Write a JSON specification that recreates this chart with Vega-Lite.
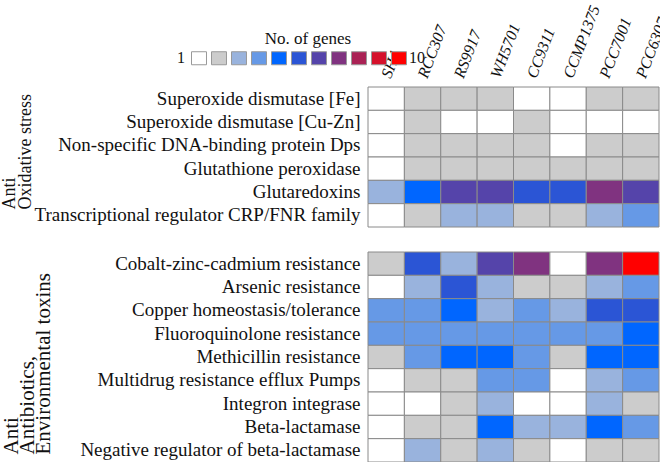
{
  "$schema": "https://vega.github.io/schema/vega-lite/v6.json",
  "padding": {"left": 0, "top": 2, "right": 0, "bottom": 0},
  "background": "white",
  "spacing": 23,
  "config": {"view": {"stroke": null}, "font": "Liberation Serif"},
  "data": {"values": [
    {"g":"A","f":"Superoxide dismutase [Fe]","s":"SH4","n":0},
    {"g":"A","f":"Superoxide dismutase [Fe]","s":"RCC307","n":1},
    {"g":"A","f":"Superoxide dismutase [Fe]","s":"RS9917","n":1},
    {"g":"A","f":"Superoxide dismutase [Fe]","s":"WH5701","n":1},
    {"g":"A","f":"Superoxide dismutase [Fe]","s":"CC9311","n":0},
    {"g":"A","f":"Superoxide dismutase [Fe]","s":"CCMP1375","n":0},
    {"g":"A","f":"Superoxide dismutase [Fe]","s":"PCC7001","n":1},
    {"g":"A","f":"Superoxide dismutase [Fe]","s":"PCC6307","n":1},
    {"g":"A","f":"Superoxide dismutase [Cu-Zn]","s":"SH4","n":0},
    {"g":"A","f":"Superoxide dismutase [Cu-Zn]","s":"RCC307","n":1},
    {"g":"A","f":"Superoxide dismutase [Cu-Zn]","s":"RS9917","n":0},
    {"g":"A","f":"Superoxide dismutase [Cu-Zn]","s":"WH5701","n":0},
    {"g":"A","f":"Superoxide dismutase [Cu-Zn]","s":"CC9311","n":1},
    {"g":"A","f":"Superoxide dismutase [Cu-Zn]","s":"CCMP1375","n":0},
    {"g":"A","f":"Superoxide dismutase [Cu-Zn]","s":"PCC7001","n":0},
    {"g":"A","f":"Superoxide dismutase [Cu-Zn]","s":"PCC6307","n":0},
    {"g":"A","f":"Non-specific DNA-binding protein Dps","s":"SH4","n":0},
    {"g":"A","f":"Non-specific DNA-binding protein Dps","s":"RCC307","n":1},
    {"g":"A","f":"Non-specific DNA-binding protein Dps","s":"RS9917","n":1},
    {"g":"A","f":"Non-specific DNA-binding protein Dps","s":"WH5701","n":1},
    {"g":"A","f":"Non-specific DNA-binding protein Dps","s":"CC9311","n":1},
    {"g":"A","f":"Non-specific DNA-binding protein Dps","s":"CCMP1375","n":0},
    {"g":"A","f":"Non-specific DNA-binding protein Dps","s":"PCC7001","n":1},
    {"g":"A","f":"Non-specific DNA-binding protein Dps","s":"PCC6307","n":1},
    {"g":"A","f":"Glutathione peroxidase","s":"SH4","n":0},
    {"g":"A","f":"Glutathione peroxidase","s":"RCC307","n":1},
    {"g":"A","f":"Glutathione peroxidase","s":"RS9917","n":1},
    {"g":"A","f":"Glutathione peroxidase","s":"WH5701","n":1},
    {"g":"A","f":"Glutathione peroxidase","s":"CC9311","n":1},
    {"g":"A","f":"Glutathione peroxidase","s":"CCMP1375","n":1},
    {"g":"A","f":"Glutathione peroxidase","s":"PCC7001","n":1},
    {"g":"A","f":"Glutathione peroxidase","s":"PCC6307","n":1},
    {"g":"A","f":"Glutaredoxins","s":"SH4","n":2},
    {"g":"A","f":"Glutaredoxins","s":"RCC307","n":4},
    {"g":"A","f":"Glutaredoxins","s":"RS9917","n":6},
    {"g":"A","f":"Glutaredoxins","s":"WH5701","n":6},
    {"g":"A","f":"Glutaredoxins","s":"CC9311","n":5},
    {"g":"A","f":"Glutaredoxins","s":"CCMP1375","n":5},
    {"g":"A","f":"Glutaredoxins","s":"PCC7001","n":7},
    {"g":"A","f":"Glutaredoxins","s":"PCC6307","n":6},
    {"g":"A","f":"Transcriptional regulator CRP/FNR family","s":"SH4","n":0},
    {"g":"A","f":"Transcriptional regulator CRP/FNR family","s":"RCC307","n":1},
    {"g":"A","f":"Transcriptional regulator CRP/FNR family","s":"RS9917","n":2},
    {"g":"A","f":"Transcriptional regulator CRP/FNR family","s":"WH5701","n":2},
    {"g":"A","f":"Transcriptional regulator CRP/FNR family","s":"CC9311","n":1},
    {"g":"A","f":"Transcriptional regulator CRP/FNR family","s":"CCMP1375","n":1},
    {"g":"A","f":"Transcriptional regulator CRP/FNR family","s":"PCC7001","n":2},
    {"g":"A","f":"Transcriptional regulator CRP/FNR family","s":"PCC6307","n":3},
    {"g":"B","f":"Cobalt-zinc-cadmium resistance","s":"SH4","n":1},
    {"g":"B","f":"Cobalt-zinc-cadmium resistance","s":"RCC307","n":5},
    {"g":"B","f":"Cobalt-zinc-cadmium resistance","s":"RS9917","n":2},
    {"g":"B","f":"Cobalt-zinc-cadmium resistance","s":"WH5701","n":6},
    {"g":"B","f":"Cobalt-zinc-cadmium resistance","s":"CC9311","n":7},
    {"g":"B","f":"Cobalt-zinc-cadmium resistance","s":"CCMP1375","n":0},
    {"g":"B","f":"Cobalt-zinc-cadmium resistance","s":"PCC7001","n":7},
    {"g":"B","f":"Cobalt-zinc-cadmium resistance","s":"PCC6307","n":10},
    {"g":"B","f":"Arsenic resistance","s":"SH4","n":0},
    {"g":"B","f":"Arsenic resistance","s":"RCC307","n":2},
    {"g":"B","f":"Arsenic resistance","s":"RS9917","n":5},
    {"g":"B","f":"Arsenic resistance","s":"WH5701","n":2},
    {"g":"B","f":"Arsenic resistance","s":"CC9311","n":1},
    {"g":"B","f":"Arsenic resistance","s":"CCMP1375","n":1},
    {"g":"B","f":"Arsenic resistance","s":"PCC7001","n":2},
    {"g":"B","f":"Arsenic resistance","s":"PCC6307","n":3},
    {"g":"B","f":"Copper homeostasis/tolerance","s":"SH4","n":3},
    {"g":"B","f":"Copper homeostasis/tolerance","s":"RCC307","n":3},
    {"g":"B","f":"Copper homeostasis/tolerance","s":"RS9917","n":4},
    {"g":"B","f":"Copper homeostasis/tolerance","s":"WH5701","n":2},
    {"g":"B","f":"Copper homeostasis/tolerance","s":"CC9311","n":3},
    {"g":"B","f":"Copper homeostasis/tolerance","s":"CCMP1375","n":2},
    {"g":"B","f":"Copper homeostasis/tolerance","s":"PCC7001","n":5},
    {"g":"B","f":"Copper homeostasis/tolerance","s":"PCC6307","n":5},
    {"g":"B","f":"Fluoroquinolone resistance","s":"SH4","n":3},
    {"g":"B","f":"Fluoroquinolone resistance","s":"RCC307","n":3},
    {"g":"B","f":"Fluoroquinolone resistance","s":"RS9917","n":3},
    {"g":"B","f":"Fluoroquinolone resistance","s":"WH5701","n":3},
    {"g":"B","f":"Fluoroquinolone resistance","s":"CC9311","n":3},
    {"g":"B","f":"Fluoroquinolone resistance","s":"CCMP1375","n":3},
    {"g":"B","f":"Fluoroquinolone resistance","s":"PCC7001","n":3},
    {"g":"B","f":"Fluoroquinolone resistance","s":"PCC6307","n":4},
    {"g":"B","f":"Methicillin resistance","s":"SH4","n":1},
    {"g":"B","f":"Methicillin resistance","s":"RCC307","n":3},
    {"g":"B","f":"Methicillin resistance","s":"RS9917","n":4},
    {"g":"B","f":"Methicillin resistance","s":"WH5701","n":4},
    {"g":"B","f":"Methicillin resistance","s":"CC9311","n":3},
    {"g":"B","f":"Methicillin resistance","s":"CCMP1375","n":1},
    {"g":"B","f":"Methicillin resistance","s":"PCC7001","n":4},
    {"g":"B","f":"Methicillin resistance","s":"PCC6307","n":4},
    {"g":"B","f":"Multidrug resistance efflux Pumps","s":"SH4","n":0},
    {"g":"B","f":"Multidrug resistance efflux Pumps","s":"RCC307","n":1},
    {"g":"B","f":"Multidrug resistance efflux Pumps","s":"RS9917","n":1},
    {"g":"B","f":"Multidrug resistance efflux Pumps","s":"WH5701","n":3},
    {"g":"B","f":"Multidrug resistance efflux Pumps","s":"CC9311","n":3},
    {"g":"B","f":"Multidrug resistance efflux Pumps","s":"CCMP1375","n":0},
    {"g":"B","f":"Multidrug resistance efflux Pumps","s":"PCC7001","n":2},
    {"g":"B","f":"Multidrug resistance efflux Pumps","s":"PCC6307","n":3},
    {"g":"B","f":"Integron integrase","s":"SH4","n":0},
    {"g":"B","f":"Integron integrase","s":"RCC307","n":0},
    {"g":"B","f":"Integron integrase","s":"RS9917","n":1},
    {"g":"B","f":"Integron integrase","s":"WH5701","n":2},
    {"g":"B","f":"Integron integrase","s":"CC9311","n":0},
    {"g":"B","f":"Integron integrase","s":"CCMP1375","n":0},
    {"g":"B","f":"Integron integrase","s":"PCC7001","n":2},
    {"g":"B","f":"Integron integrase","s":"PCC6307","n":1},
    {"g":"B","f":"Beta-lactamase","s":"SH4","n":0},
    {"g":"B","f":"Beta-lactamase","s":"RCC307","n":1},
    {"g":"B","f":"Beta-lactamase","s":"RS9917","n":1},
    {"g":"B","f":"Beta-lactamase","s":"WH5701","n":4},
    {"g":"B","f":"Beta-lactamase","s":"CC9311","n":2},
    {"g":"B","f":"Beta-lactamase","s":"CCMP1375","n":2},
    {"g":"B","f":"Beta-lactamase","s":"PCC7001","n":4},
    {"g":"B","f":"Beta-lactamase","s":"PCC6307","n":3},
    {"g":"B","f":"Negative regulator of beta-lactamase","s":"SH4","n":0},
    {"g":"B","f":"Negative regulator of beta-lactamase","s":"RCC307","n":2},
    {"g":"B","f":"Negative regulator of beta-lactamase","s":"RS9917","n":1},
    {"g":"B","f":"Negative regulator of beta-lactamase","s":"WH5701","n":2},
    {"g":"B","f":"Negative regulator of beta-lactamase","s":"CC9311","n":1},
    {"g":"B","f":"Negative regulator of beta-lactamase","s":"CCMP1375","n":0},
    {"g":"B","f":"Negative regulator of beta-lactamase","s":"PCC7001","n":1},
    {"g":"B","f":"Negative regulator of beta-lactamase","s":"PCC6307","n":1}
  ]},
  "vconcat": [
    {
      "width": 291,
      "height": 140,
      "transform": [{"filter": "datum.g == 'A'"}],
      "mark": {"type": "rect", "stroke": "#8a8a8a", "strokeWidth": 1},
      "encoding": {
        "x": {
          "field": "s", "type": "nominal",
          "sort": ["SH4","RCC307","RS9917","WH5701","CC9311","CCMP1375","PCC7001","PCC6307"],
          "scale": {"paddingInner": 0, "paddingOuter": 0},
          "axis": {"orient": "top", "title": null, "labelAngle": -69, "labelFont": "Liberation Serif", "labelFontStyle": "italic", "labelFontSize": 16, "labelColor": "#111", "ticks": false, "domain": false, "labelPadding": 10, "labelAlign": "left", "labelBaseline": "middle"}
        },
        "y": {
          "field": "f", "type": "nominal",
          "sort": ["Superoxide dismutase [Fe]","Superoxide dismutase [Cu-Zn]","Non-specific DNA-binding protein Dps","Glutathione peroxidase","Glutaredoxins","Transcriptional regulator CRP/FNR family"],
          "scale": {"paddingInner": 0, "paddingOuter": 0},
          "axis": {"title": ["Anti", "Oxidative stress"], "labelFontSize": 19, "labelFont": "Liberation Serif", "labelColor": "#111", "labelPadding": 8, "labelLimit": 400, "ticks": false, "domain": false, "titleFont": "Liberation Serif", "titleFontSize": 18, "titleFontWeight": "normal", "titleColor": "#111", "titleAngle": 270, "titleAlign": "left", "titleBaseline": "top", "titleX": -368, "titleY": 122, "titleLineHeight": 16}
        },
        "color": {
          "field": "n", "type": "ordinal",
          "scale": {"domain": [0,1,2,3,4,5,6,7,8,9,10], "range": ["#ffffff","#cccccc","#99b3dd","#6699e6","#0066ff","#2b55d5","#5544aa","#803380","#aa2255","#d5112b","#ff0000"]},
          "legend": {
            "title": "No. of genes", "orient": "none", "legendX": -177, "legendY": -56, "direction": "horizontal", "columns": 11, "gridAlign": "each",
            "columnPadding": 0, "rowPadding": 0, "padding": 0,
            "symbolType": "M-1.43,-1.24L1.43,-1.24L1.43,1.24L-1.43,1.24Z", "symbolSize": 110, "symbolStrokeColor": "#999999", "symbolStrokeWidth": 1,
            "titleFont": "Liberation Serif", "titleFontSize": 17, "titleFontWeight": "normal", "titleColor": "#111", "titleAnchor": "middle", "titlePadding": 2,
            "labelFont": "Liberation Serif", "labelFontSize": 16, "labelColor": "#111", "labelOffset": 0,
            "labelExpr": "datum.value == 0 ? '1' : (datum.value == 10 ? '10' : '')",
            "encode": {"labels": {"update": {
              "align": {"signal": "datum.value == 0 ? 'right' : 'left'"},
              "dx": {"signal": "datum.value == 0 ? -22 : (datum.value == 10 ? 2 : 0)"}
            }}}
          }
        }
      }
    },
    {
      "width": 291,
      "height": 210,
      "transform": [{"filter": "datum.g == 'B'"}],
      "mark": {"type": "rect", "stroke": "#8a8a8a", "strokeWidth": 1},
      "encoding": {
        "x": {
          "field": "s", "type": "nominal",
          "sort": ["SH4","RCC307","RS9917","WH5701","CC9311","CCMP1375","PCC7001","PCC6307"],
          "scale": {"paddingInner": 0, "paddingOuter": 0},
          "axis": null
        },
        "y": {
          "field": "f", "type": "nominal",
          "sort": ["Cobalt-zinc-cadmium resistance","Arsenic resistance","Copper homeostasis/tolerance","Fluoroquinolone resistance","Methicillin resistance","Multidrug resistance efflux Pumps","Integron integrase","Beta-lactamase","Negative regulator of beta-lactamase"],
          "scale": {"paddingInner": 0, "paddingOuter": 0},
          "axis": {"title": ["Anti", "Antibiotics,", "Environmental toxins"], "labelFontSize": 19, "labelFont": "Liberation Serif", "labelColor": "#111", "labelPadding": 8, "labelLimit": 400, "ticks": false, "domain": false, "titleFont": "Liberation Serif", "titleFontSize": 21, "titleFontWeight": "normal", "titleColor": "#111", "titleAngle": 270, "titleAlign": "left", "titleBaseline": "top", "titleX": -368, "titleY": 202, "titleLineHeight": 16}
        },
        "color": {
          "field": "n", "type": "ordinal",
          "scale": {"domain": [0,1,2,3,4,5,6,7,8,9,10], "range": ["#ffffff","#cccccc","#99b3dd","#6699e6","#0066ff","#2b55d5","#5544aa","#803380","#aa2255","#d5112b","#ff0000"]},
          "legend": null
        }
      }
    }
  ]
}
